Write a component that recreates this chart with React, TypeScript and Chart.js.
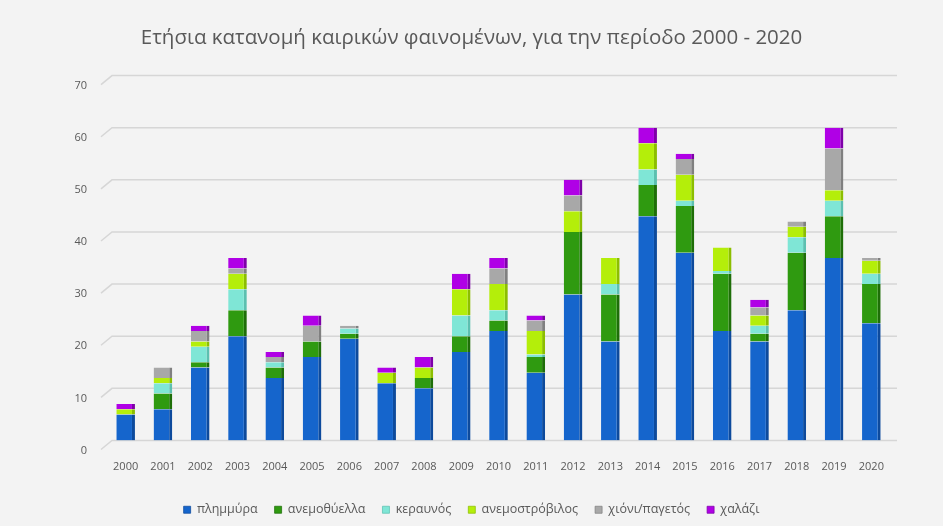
import { useEffect, useRef } from "react";
import { Chart, registerables } from "chart.js";

Chart.register(...registerables);

const years = [
  "2000", "2001", "2002", "2003", "2004", "2005", "2006", "2007", "2008", "2009", "2010",
  "2011", "2012", "2013", "2014", "2015", "2016", "2017", "2018", "2019", "2020",
];
const flood = [5, 6, 14, 20, 12, 16, 19.5, 11, 10, 17, 21, 13, 28, 19, 43, 36, 21, 19, 25, 35, 22.5];
const windstorm = [0, 3, 1, 5, 2, 3, 1, 0, 2, 3, 2, 3, 12, 9, 6, 9, 11, 1.5, 11, 8, 7.5];
const lightning = [0, 2, 3, 4, 1, 0, 1, 0, 0, 4, 2, 0.5, 0, 2, 3, 1, 0.5, 1.5, 3, 3, 2];
const tornado = [1, 1, 1, 3, 0, 0, 0, 2, 2, 5, 5, 4.5, 4, 5, 5, 5, 4.5, 2, 2, 2, 2.5];
const snowFrost = [0, 2, 2, 1, 1, 3, 0.5, 0, 0, 0, 3, 2, 3, 0, 0, 3, 0, 1.5, 1, 8, 0.5];
const hail = [1, 0, 1, 2, 1, 2, 0, 1, 2, 3, 2, 1, 3, 0, 3, 1, 0, 1.5, 0, 4, 0];

const seriesNames = ["πλημμύρα", "ανεμοθύελλα", "κεραυνός", "ανεμοστρόβιλος", "χιόνι/παγετός", "χαλάζι"];
const seriesValues = [flood, windstorm, lightning, tornado, snowFrost, hail];
const seriesColors = ["#1565CC", "#2F9A10", "#7FE6D6", "#B4EE0A", "#A8A8A8", "#B000E6"];
const seriesSides = ["#0D4A9C", "#1E6E08", "#5CC0B0", "#8CBE00", "#808080", "#7E00A8"];

const yTicks = [0, 10, 20, 30, 40, 50, 60, 70];
const titleText = "Ετήσια κατανομή καιρικών φαινομένων, για την περίοδο 2000 - 2020";

const gridPlugin = {
  id: "backGrid",
  beforeDatasetsDraw(chart: any) {
    const { ctx, chartArea, scales } = chart;
    const y = scales.y;
    ctx.save();
    ctx.strokeStyle = "#D6D6D6";
    ctx.lineWidth = 1.5;
    yTicks.forEach((v) => {
      const py = y.getPixelForValue(v);
      ctx.beginPath();
      ctx.moveTo(chartArea.left - 6, py + 9);
      ctx.lineTo(chartArea.left + 5, py);
      ctx.lineTo(chartArea.right + 7, py);
      ctx.stroke();
    });
    ctx.restore();
  },
};

export default function App() {
  const ref = useRef<HTMLCanvasElement | null>(null);

  useEffect(() => {
    if (!ref.current) return;
    const chart = new Chart(ref.current, {
      type: "bar",
      data: {
        labels: years,
        datasets: seriesNames.map((name, i) => ({
          label: name,
          data: seriesValues[i],
          backgroundColor: seriesColors[i],
          borderColor: seriesSides[i],
          borderWidth: { top: 0, left: 0, bottom: 0, right: 3 },
          borderSkipped: false,
          barPercentage: 0.5,
          categoryPercentage: 1,
        })),
      },
      options: {
        animation: false,
        responsive: false,
        maintainAspectRatio: false,
        layout: { padding: { left: 0, right: 0, top: 0, bottom: 0 } },
        plugins: {
          title: {
            display: true,
            text: titleText,
            color: "#595959",
            font: { family: "Open Sans", size: 20.5, weight: "normal" },
            padding: { top: 26, bottom: 25 },
          },
          legend: {
            position: "bottom",
            labels: {
              color: "#595959",
              font: { family: "Open Sans", size: 12.5 },
              boxWidth: 7,
              boxHeight: 7,
              padding: 17,
            },
          },
          tooltip: { enabled: false },
        },
        scales: {
          x: {
            stacked: true,
            grid: { display: false, drawTicks: false },
            border: { display: false },
            ticks: {
              color: "#595959",
              font: { family: "Open Sans", size: 11 },
              padding: 20,
              maxRotation: 0,
              autoSkip: false,
            },
            afterFit: (s: any) => {
              s.height = 46;
            },
          },
          y: {
            stacked: true,
            min: 0,
            max: 70,
            grid: { display: false, drawTicks: false },
            border: { display: false },
            ticks: {
              stepSize: 10,
              color: "#595959",
              font: { family: "Open Sans", size: 11 },
              padding: 20,
              labelOffset: 10,
            },
            afterFit: (s: any) => {
              s.width = 107;
            },
          },
          yRight: {
            position: "right",
            display: true,
            min: 0,
            max: 70,
            grid: { display: false, drawTicks: false },
            border: { display: false },
            ticks: { display: false },
            afterFit: (s: any) => {
              s.width = 53;
            },
          },
        },
      },
      plugins: [gridPlugin],
    });
    return () => chart.destroy();
  }, []);

  return (
    <div
      style={{
        position: "absolute",
        left: 0,
        top: 0,
        width: 943,
        height: 526,
        background: "#F3F3F3",
      }}
    >
      <canvas ref={ref} width={943} height={526} style={{ width: 943, height: 526, display: "block" }} />
    </div>
  );
}
